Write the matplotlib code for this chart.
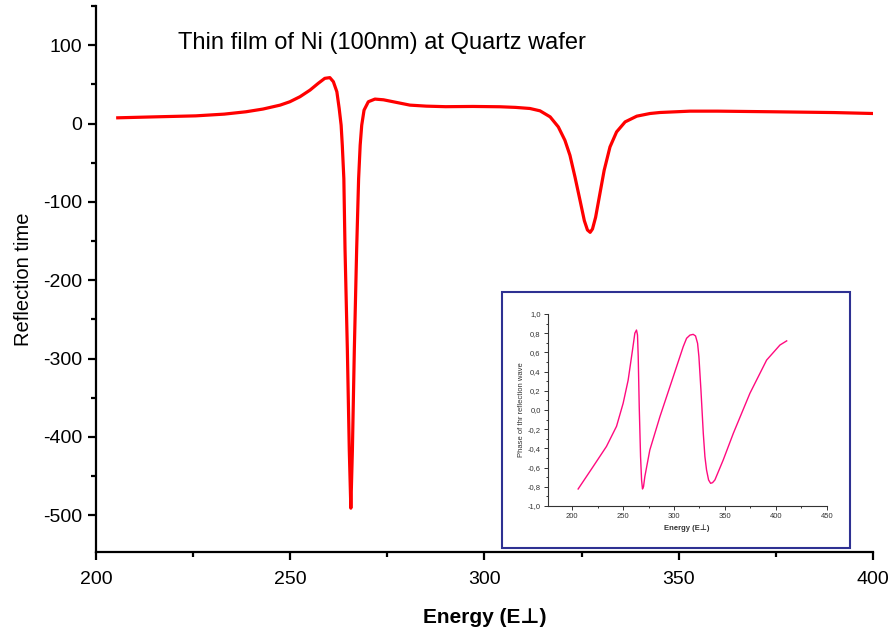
import matplotlib
matplotlib.use("Agg")
import matplotlib.pyplot as plt
from matplotlib.ticker import MultipleLocator, FuncFormatter
from matplotlib.patches import Rectangle

plt.rcParams['font.family'] = ['Liberation Sans', 'DejaVu Sans']
plt.rcParams['axes.unicode_minus'] = False

# reflection time vs energy (main curve)
energy = [205.6, 215.0, 225.7, 233.0, 238.6, 243.0, 247.4, 249.9, 252.5, 255.1,
          257.2, 258.9, 260.2, 261.1, 262.0, 262.6, 263.1, 263.4, 263.8, 264.1,
          264.7, 265.2, 265.6, 266.0, 266.5, 267.1, 267.6, 268.0, 268.4, 269.0,
          270.1, 271.8, 274.0, 277.4, 280.8, 285.0, 290.0, 297.0, 304.0, 308.0,
          311.7, 314.3, 316.9, 319.0, 320.7, 322.0, 323.3, 324.6, 325.7, 326.5,
          327.2, 327.8, 328.6, 329.7, 330.8, 332.3, 334.0, 336.2, 339.2, 342.6,
          345.2, 352.9, 360.0, 374.3, 390.0, 400.0]
refl_time = [7.3, 8.5, 9.8, 12.0, 15.0, 18.5, 23.5, 27.8, 34.2, 42.7,
             51.3, 57.7, 58.6, 53.4, 40.6, 19.2, -2.1, -27.8, -70.5, -160.0,
             -288.0, -417.0, -491.0, -417.0, -288.0, -160.0, -70.5, -27.8, -2.1, 17.1,
             27.8, 31.2, 30.3, 26.9, 23.5, 22.2, 21.5, 21.8, 21.4, 20.6,
             19.2, 16.2, 8.5, -4.3, -21.4, -40.6, -68.4, -98.3, -124.0, -135.9,
             -138.9, -134.6, -119.7, -89.7, -59.8, -29.9, -10.7, 2.1, 9.4, 12.8,
             14.1, 15.8, 15.8, 15.0, 14.0, 12.8]

# phase of the reflected wave (inset)
inset_energy = [205.9, 220.6, 233.7, 243.6, 250.1, 255.0, 259.3, 261.6, 263.2, 264.2,
                264.9, 265.9, 267.2, 268.2, 269.1, 270.1, 271.4, 276.3, 286.2, 299.3,
                309.1, 312.4, 315.7, 318.9, 321.2, 323.2, 324.5, 326.5, 328.8, 330.4,
                332.0, 334.0, 336.0, 337.9, 340.2, 348.4, 358.3, 374.6, 391.0, 404.1,
                410.7]
phase = [-0.823, -0.59, -0.38, -0.17, 0.07, 0.31, 0.625, 0.80, 0.833, 0.781,
         0.556, 0.035, -0.486, -0.729, -0.823, -0.799, -0.694, -0.417, -0.07, 0.347,
         0.66, 0.747, 0.78, 0.788, 0.771, 0.694, 0.556, 0.208, -0.243, -0.486,
         -0.625, -0.729, -0.764, -0.757, -0.729, -0.52, -0.243, 0.174, 0.52, 0.677,
         0.72]

fig = plt.figure(figsize=(8.92, 6.28), dpi=100)
ax = fig.add_axes([0.1076, 0.121, 0.8711, 0.8694])
ax.plot(energy, refl_time, color='#ff0000', lw=2.3, solid_joinstyle='round')
ax.set_xlim(200, 400)
ax.set_ylim(-547, 150)
ax.xaxis.set_major_locator(MultipleLocator(50))
ax.xaxis.set_minor_locator(MultipleLocator(25))
ax.yaxis.set_major_locator(MultipleLocator(100))
ax.yaxis.set_minor_locator(MultipleLocator(50))
for s in ['top', 'right']:
    ax.spines[s].set_visible(False)
for s in ['left', 'bottom']:
    ax.spines[s].set_linewidth(1.6)
ax.tick_params(which='major', direction='out', length=6, width=1.6, labelsize=14, pad=4)
ax.tick_params(axis='x', which='major', pad=8)
ax.tick_params(which='minor', direction='out', length=3.5, width=1.6)
ax.set_xlabel('Energy (E\u22a5)', fontsize=15, fontweight='bold', labelpad=14)
ax.set_ylabel('Reflection time', fontsize=14.5, labelpad=7)
fig.text(0.1996, 0.9315, 'Thin film of Ni (100nm) at Quartz wafer', fontsize=17,
         va='center', ha='left')

# blue frame around the inset
fig.patches.append(Rectangle((0.5628, 0.1274), 0.390, 0.4076, transform=fig.transFigure,
                             fill=False, edgecolor='#2e3192', lw=1.5, zorder=5))

ins = fig.add_axes([0.614, 0.1943, 0.3128, 0.3057])
ins.plot(inset_energy, phase, color='#ff0a7f', lw=1.0)
ins.set_xlim(176, 450)
ins.set_ylim(-1.0, 1.0)
ins.xaxis.set_major_locator(MultipleLocator(50))
ins.xaxis.set_minor_locator(MultipleLocator(25))
ins.yaxis.set_major_locator(MultipleLocator(0.2))
ins.yaxis.set_minor_locator(MultipleLocator(0.1))
ins.yaxis.set_major_formatter(FuncFormatter(lambda v, p: ('%.1f' % v).replace('-0.0', '0.0').replace('.', ',')))
for s in ['top', 'right']:
    ins.spines[s].set_visible(False)
for s in ['left', 'bottom']:
    ins.spines[s].set_linewidth(0.8)
    ins.spines[s].set_color('#333333')
ins.tick_params(which='major', direction='out', length=3, width=0.7, labelsize=5.5,
                colors='#333333', pad=2)
ins.tick_params(which='minor', direction='out', length=1.5, width=0.7, colors='#333333')
ins.set_xlabel('Energy (E\u22a5)', fontsize=5.5, fontweight='bold', color='#333333', labelpad=3)
ins.set_ylabel('Phase of thr reflection wave', fontsize=5.5, color='#333333', labelpad=2)

fig.savefig('out.png', dpi=100)
